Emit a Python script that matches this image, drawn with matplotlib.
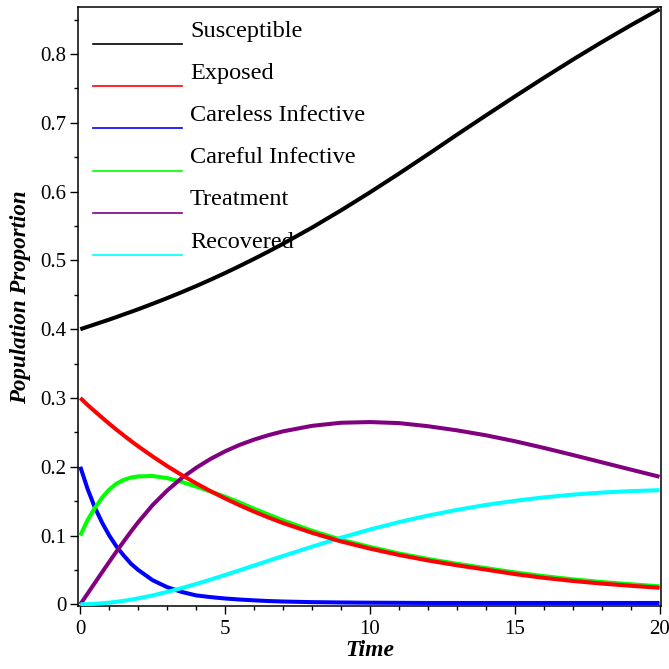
import matplotlib
matplotlib.use("Agg")
import matplotlib.pyplot as plt
from matplotlib.ticker import MultipleLocator, FuncFormatter

# time grid (finer at the start where the curves bend fast)
t = [0, 0.25, 0.5, 0.75, 1, 1.25, 1.5, 1.75, 2, 2.5, 3, 3.5, 4, 4.5, 5, 5.5,
     6, 6.5, 7, 8, 9, 10, 11, 12, 13, 14, 15, 16, 17, 18, 19, 20]

susceptible = [0.400, 0.4035, 0.4070, 0.4105, 0.4140, 0.4177, 0.4215, 0.4252,
               0.4290, 0.4370, 0.4452, 0.4538, 0.4627, 0.4720, 0.4817, 0.4918,
               0.5022, 0.5130, 0.5242, 0.5477, 0.5727, 0.5989, 0.6261, 0.6541,
               0.6826, 0.7106, 0.7382, 0.7653, 0.7917, 0.8172, 0.8417, 0.8652]
exposed = [0.300, 0.290, 0.2806, 0.2715, 0.2625, 0.2539, 0.2456, 0.2375,
           0.2297, 0.2149, 0.2010, 0.1880, 0.1759, 0.1645, 0.1539, 0.1440,
           0.1348, 0.1262, 0.1182, 0.1040, 0.0915, 0.0810, 0.0718, 0.0638,
           0.0568, 0.0505, 0.0440, 0.0385, 0.0340, 0.0302, 0.0270, 0.0240]
careless = [0.200, 0.168, 0.141, 0.119, 0.100, 0.084, 0.071, 0.059, 0.050,
            0.035, 0.025, 0.018, 0.013, 0.0105, 0.0085, 0.0070, 0.0058, 0.0048,
            0.0041, 0.0032, 0.0027, 0.0024, 0.0022, 0.002, 0.002, 0.002, 0.002,
            0.002, 0.002, 0.002, 0.002, 0.002]
careful = [0.100, 0.1225, 0.140, 0.155, 0.167, 0.1755, 0.181, 0.1843, 0.186,
           0.1866, 0.1835, 0.178, 0.1712, 0.164, 0.1565, 0.148, 0.139, 0.1305,
           0.122, 0.107, 0.094, 0.0835, 0.074, 0.066, 0.059, 0.0527, 0.0465,
           0.0410, 0.0364, 0.0325, 0.0292, 0.0262]
treatment = [0.0, 0.0155, 0.031, 0.0465, 0.0618, 0.0768, 0.0915, 0.1058,
             0.1195, 0.1445, 0.1655, 0.1835, 0.1985, 0.2115, 0.2225, 0.2318,
             0.2395, 0.2460, 0.2515, 0.2595, 0.2640, 0.2650, 0.2635, 0.2590,
             0.2530, 0.2458, 0.2372, 0.2275, 0.2172, 0.2066, 0.1960, 0.1855]
recovered = [0.0, 0.0002, 0.0007, 0.0015, 0.0025, 0.0037, 0.0051, 0.0068,
             0.0087, 0.0130, 0.0180, 0.0236, 0.0296, 0.0360, 0.0427, 0.0495,
             0.0564, 0.0634, 0.0703, 0.0838, 0.0968, 0.1088, 0.1195, 0.1290,
             0.1373, 0.1445, 0.1505, 0.1555, 0.1595, 0.1625, 0.1646, 0.1660]

labels = ['Susceptible', 'Exposed', 'Careless Infective', 'Careful Infective',
          'Treatment', 'Recovered']
colors = ['#000000', '#ff0000', '#0000ff', '#00ff00', '#800080', '#00ffff']
series = [susceptible, exposed, careless, careful, treatment, recovered]
zorders = [3, 4, 3, 3, 3, 3]

plt.rcParams['font.family'] = ['Liberation Serif', 'DejaVu Serif']

fig = plt.figure(figsize=(6.69, 6.69), dpi=100)
ax = fig.add_axes([0.117, 0.0946, 0.871, 0.8945])

for y, c, z in zip(series, colors, zorders):
    ax.plot(t, y, color=c, lw=2.9, zorder=z, solid_capstyle='butt')

ax.set_xlim(-0.07, 20.05)
ax.set_ylim(-0.002, 0.868)

ax.xaxis.set_major_locator(MultipleLocator(5))
ax.xaxis.set_minor_locator(MultipleLocator(1))
ax.yaxis.set_major_locator(MultipleLocator(0.1))
ax.yaxis.set_minor_locator(MultipleLocator(0.05))
ax.yaxis.set_major_formatter(FuncFormatter(lambda v, p: f'{v:g}'))
ax.tick_params(which='both', direction='out', top=False, right=False,
               labelsize=15, width=1)
ax.tick_params(which='major', length=5.5)
ax.tick_params(which='minor', length=3)
ax.tick_params(axis='x', which='major', pad=5)
ax.tick_params(axis='y', which='major', pad=3)
for s in ax.spines.values():
    s.set_linewidth(1.1)

ax.set_xlabel('Time', fontsize=17, fontweight='bold', style='italic')
ax.set_ylabel('Population Proportion', fontsize=16.5, fontweight='bold',
              style='italic')
ax.xaxis.set_label_coords(0.5006, -0.058)
ax.yaxis.set_label_coords(-0.081, 0.516)

# legend drawn by hand: short line with the name sitting above its right end
x0, x1, xt = 0.0252, 0.178, 0.1917
y0, dy = 0.9387, 0.0705
for i, (lab, c) in enumerate(zip(labels, colors)):
    yy = y0 - i * dy
    ax.plot([x0, x1], [yy, yy], transform=ax.transAxes, color=c, lw=1.2,
            zorder=5)
    ax.text(xt, yy + 0.0122, lab, transform=ax.transAxes, fontsize=17.5,
            va='baseline', ha='left', zorder=5)

fig.savefig('out.png', dpi=100)
